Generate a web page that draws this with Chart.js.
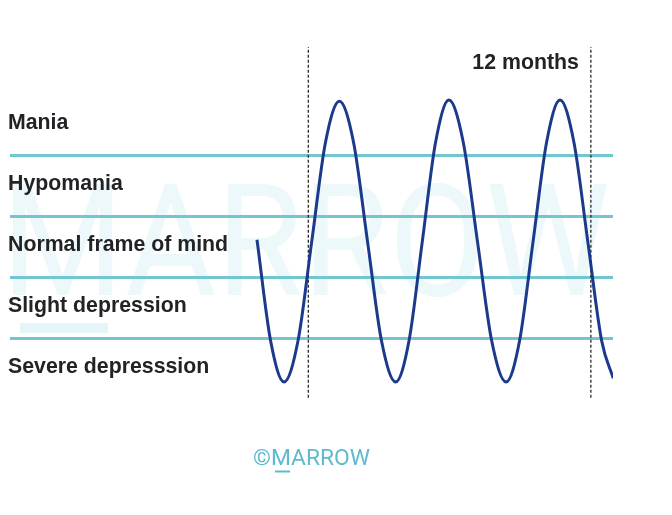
<!DOCTYPE html>
<html>
<head>
<meta charset="utf-8">
<script src="https://cdn.jsdelivr.net/npm/chart.js@4/dist/chart.umd.min.js"></script>
<style>
  html, body { margin: 0; padding: 0; background: #ffffff; }
  #wrap { width: 672px; height: 515px; position: relative; }
</style>
</head>
<body>
<div id="wrap"><canvas id="c" width="672" height="515"></canvas></div>
<script>
// ---- data ----
// mood levels (bottom to top), band boundaries, and the mood curve (x in months, y in level units)
const levelLabels = ["Severe depresssion", "Slight depression", "Normal frame of mind", "Hypomania", "Mania"];
const bandLines = [1, 2, 3, 4];
const moodMonths = [-2.18, -1.60, -1.03, -0.44, 0.145, 0.73, 1.32, 1.92, 2.515, 3.11, 3.71, 4.275, 4.84, 5.405, 5.97, 6.58, 7.185, 7.79, 8.40, 8.97, 9.545, 10.12, 10.69, 11.28, 11.87, 12.46, 12.95];
const moodLevels = [2.61, 0.95, 0.28, 0.95, 2.58, 4.21, 4.88, 4.21, 2.58, 0.95, 0.28, 0.95, 2.58, 4.21, 4.90, 4.21, 2.58, 0.95, 0.28, 0.95, 2.58, 4.21, 4.90, 4.21, 2.58, 0.95, 0.34];
const markerMonths = [0, 12];
const markerSpan = [0.02, 5.77];
const periodLabel = "12 months";
const watermarkText = "MARROW";
const logoText = "©MARROW";

const moodPoints = moodMonths.map((m, i) => ({ x: m, y: moodLevels[i] }));
const markerSets = markerMonths.map(m => ({
  data: [{ x: m, y: markerSpan[0] }, { x: m, y: markerSpan[1] }],
  showLine: true, borderColor: '#2b2b2b', borderWidth: 1.3, borderDash: [3, 2],
  pointRadius: 0, fill: false
}));

const decor = {
  id: 'decor',
  beforeDraw(chart) {
    const ctx = chart.ctx;
    ctx.save();
    // faint watermark
    ctx.fillStyle = '#ecf8fa';
    ctx.font = '400 159px Roboto';
    ctx.textBaseline = 'alphabetic';
    const m = ctx.measureText(watermarkText);
    const inkW = m.actualBoundingBoxLeft + m.actualBoundingBoxRight;
    const inkH = m.actualBoundingBoxAscent;
    const sx = 594 / inkW, sy = 113 / inkH;
    ctx.translate(13, 295);
    ctx.scale(sx, sy);
    ctx.fillText(watermarkText, m.actualBoundingBoxLeft, 0);
    ctx.restore();
    ctx.save();
    ctx.fillStyle = '#e6f5f8';
    ctx.fillRect(20, 323, 88, 10);
    ctx.restore();
  },
  afterDraw(chart) {
    const ctx = chart.ctx;
    const ys = chart.scales.y, xs = chart.scales.x;
    ctx.save();
    ctx.fillStyle = '#222326';
    ctx.font = 'bold 21.3px "Liberation Sans", Arial, sans-serif';
    ctx.textAlign = 'left';
    ctx.textBaseline = 'alphabetic';
    levelLabels.forEach((t, i) => {
      ctx.fillText(t, 8, ys.getPixelForValue(i + 0.5) + 4);
    });
    ctx.textAlign = 'right';
    ctx.fillText(periodLabel, xs.getPixelForValue(12) - 12, 69);
    // logo
    ctx.fillStyle = '#5fbad0';
    ctx.font = '400 22px Roboto';
    ctx.textAlign = 'left';
    const lm = ctx.measureText(logoText);
    const s = 117 / lm.width;
    ctx.translate(253, 465);
    ctx.scale(s, 1);
    ctx.fillText(logoText, 0, 0);
    ctx.restore();
    ctx.save();
    ctx.fillStyle = '#5fbad0';
    ctx.fillRect(275, 470.5, 15, 2);
    ctx.restore();
  }
};

new Chart(document.getElementById('c'), {
  type: 'scatter',
  data: {
    datasets: [
      {
        data: moodPoints, showLine: true, borderColor: '#1b3a8c', borderWidth: 3,
        pointRadius: 0, cubicInterpolationMode: 'monotone', fill: false
      },
      ...markerSets
    ]
  },
  options: {
    responsive: false,
    animation: false,
    layout: { padding: { left: 10, right: 59, top: 33, bottom: 116 } },
    plugins: { legend: { display: false }, tooltip: { enabled: false } },
    scales: {
      x: { type: 'linear', min: -12.67, max: 12.94, display: false },
      y: {
        type: 'linear', min: 0, max: 6, display: true,
        afterBuildTicks(scale) { scale.ticks = bandLines.map(v => ({ value: v })); },
        grid: { color: '#72c6d1', lineWidth: 3, drawTicks: false },
        border: { display: false },
        ticks: { display: false }
      }
    }
  },
  plugins: [decor]
});
</script>
</body>
</html>
